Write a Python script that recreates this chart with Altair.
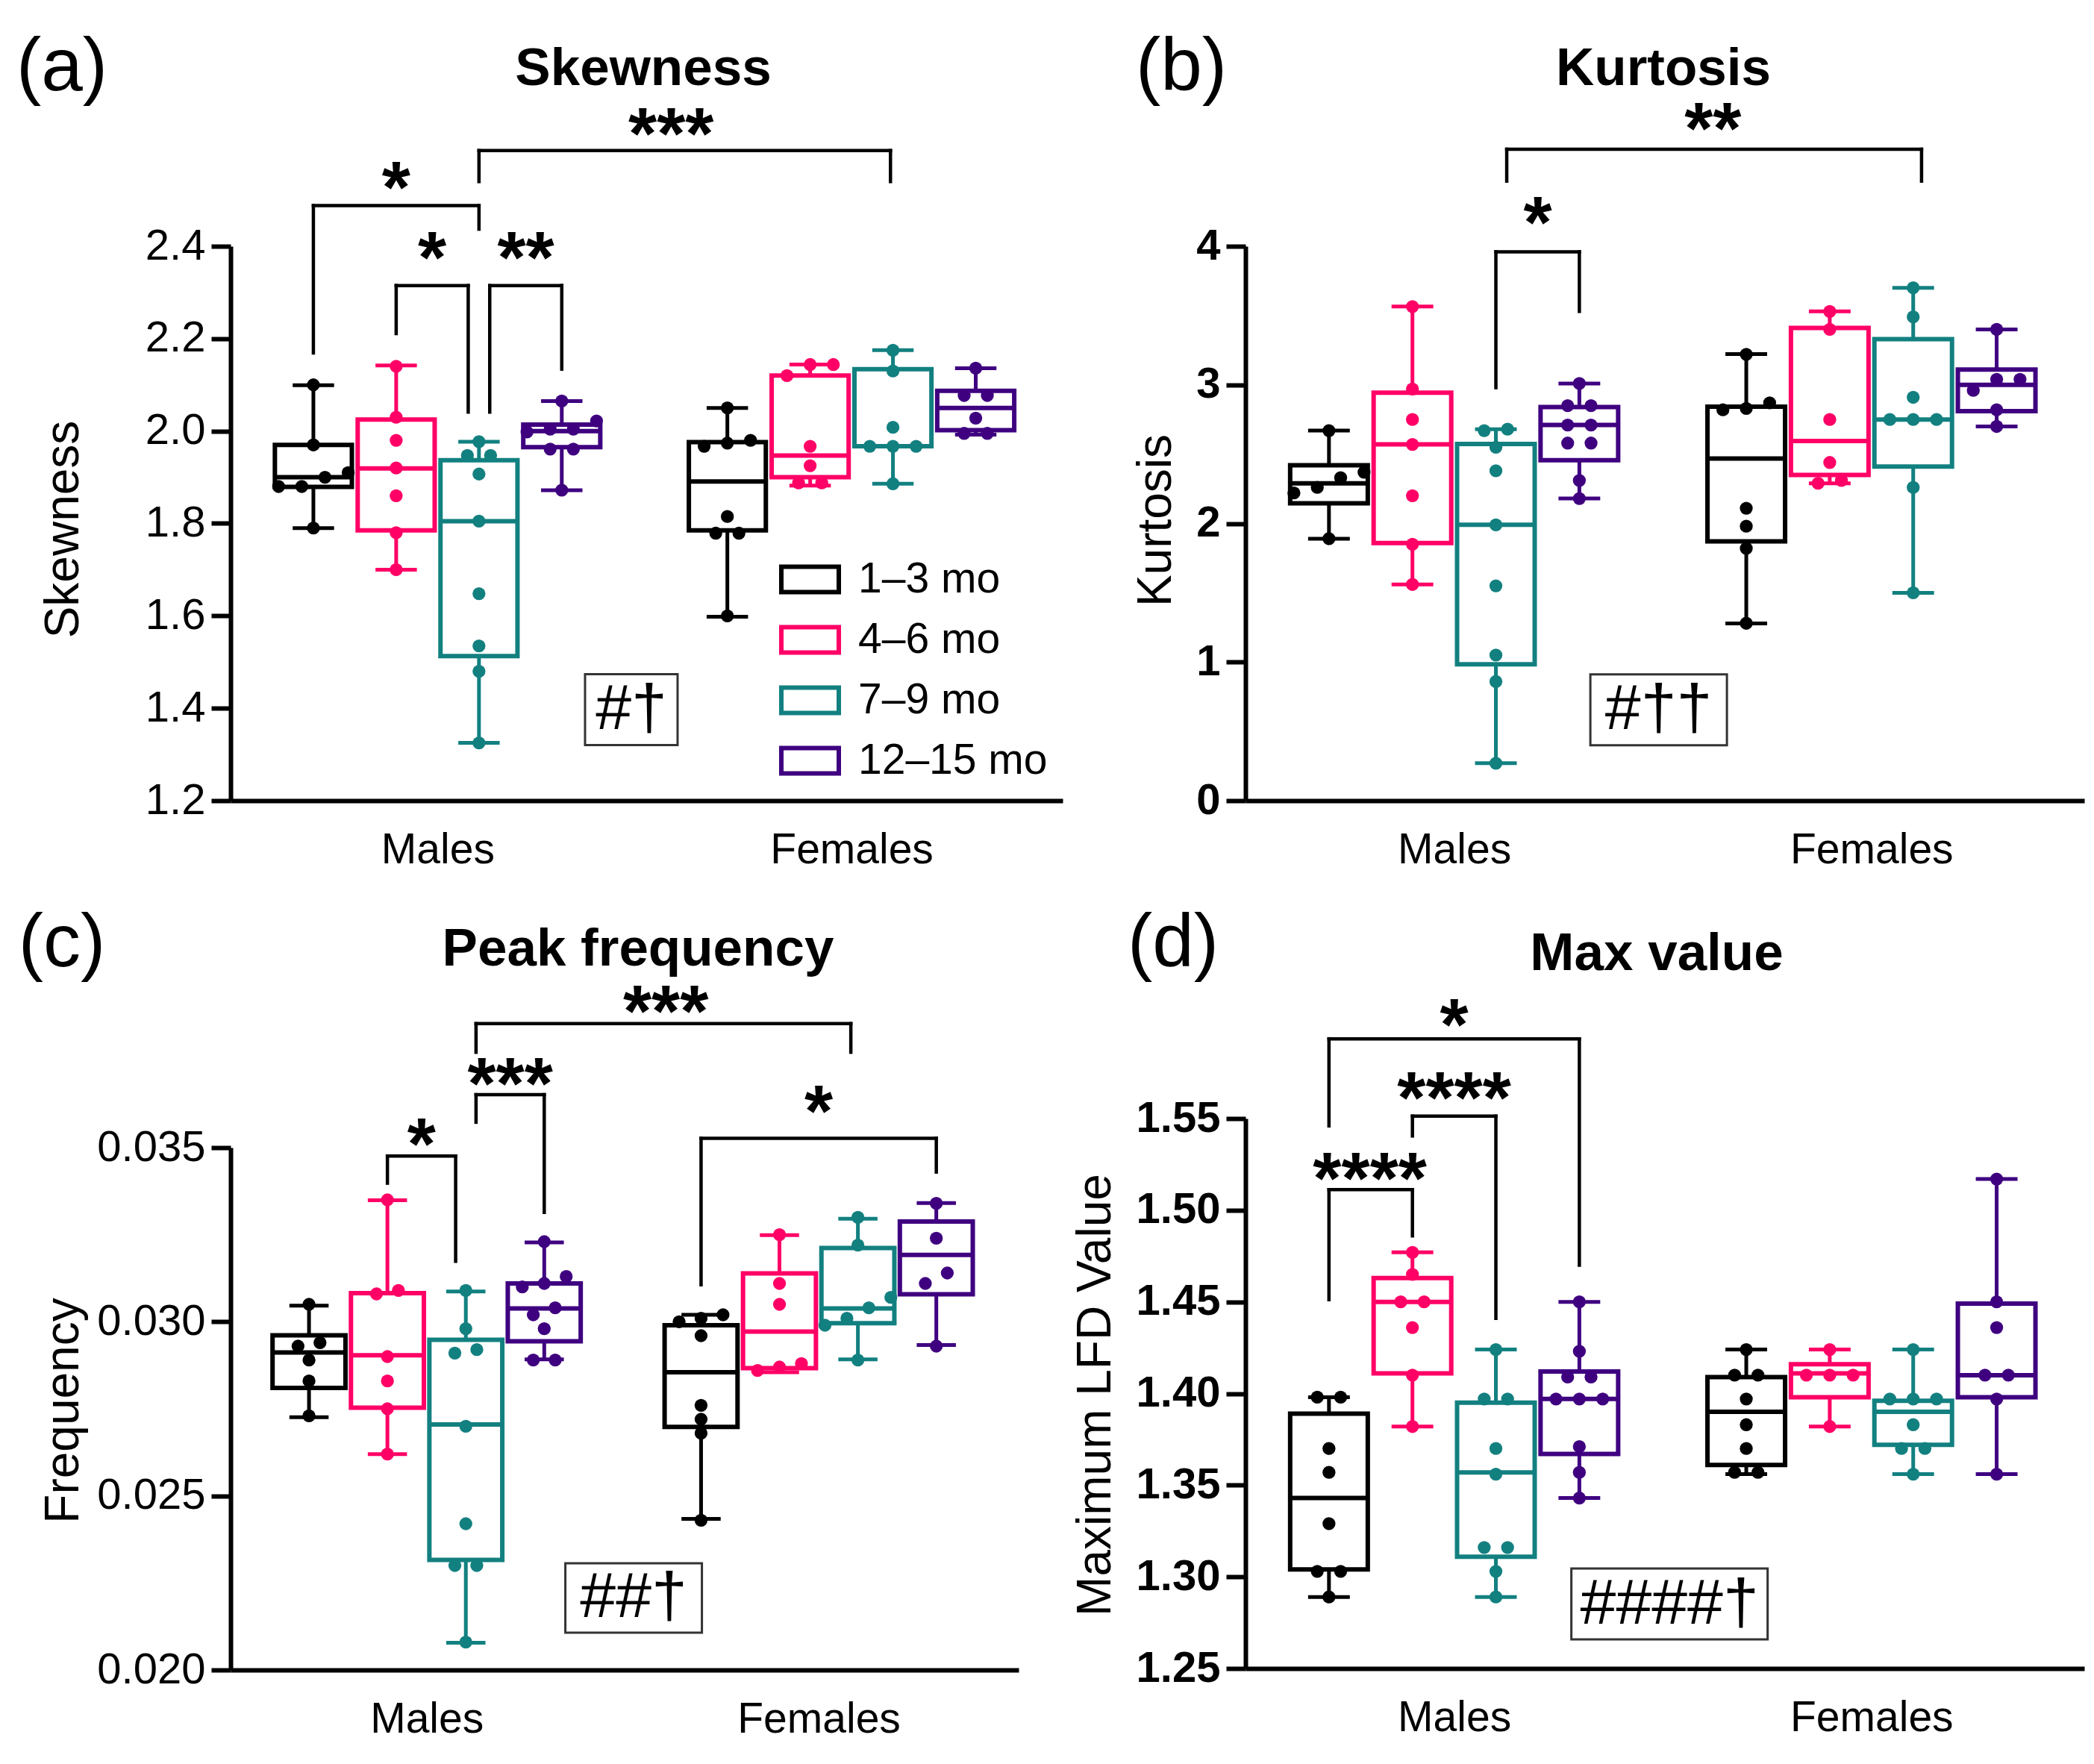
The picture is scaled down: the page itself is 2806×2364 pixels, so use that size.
import altair as alt
import pandas as pd

FONT = "Liberation Sans"
AGES = ["1–3 mo", "4–6 mo", "7–9 mo", "12–15 mo"]
COLORS = ["#000000", "#FF0066", "#138080", "#3F0080"]
GROUPS = ["Males", "Females"]

# ---------------- (a) Skewness ----------------
SKEW_PTS = [
    [2.10, 1.97, 1.91, 1.90, 1.88, 1.88, 1.79],
    [2.14, 2.03, 1.98, 1.92, 1.86, 1.78, 1.70],
    [1.977, 1.947, 1.947, 1.907, 1.805, 1.648, 1.535, 1.48, 1.325],
    [2.065, 2.022, 2.004, 2.004, 1.998, 1.961, 1.961, 1.872],
    [2.05, 1.98, 1.974, 1.967, 1.815, 1.779, 1.779, 1.60],
    [2.144, 2.144, 2.12, 1.967, 1.925, 1.888, 1.888],
    [2.175, 2.13, 2.008, 1.967, 1.967, 1.967, 1.886],
    [2.136, 2.077, 2.077, 2.028, 1.995, 1.995],
]
SKEW_BOX = [  # min, q1, median, q3, max
    [1.79, 1.879, 1.90, 1.970, 2.099],
    [1.70, 1.785, 1.919, 2.025, 2.142],
    [1.325, 1.513, 1.805, 1.937, 1.977],
    [1.872, 1.965, 2.000, 2.014, 2.065],
    [1.598, 1.785, 1.891, 1.976, 2.050],
    [1.882, 1.900, 1.947, 2.120, 2.144],
    [1.886, 1.967, 1.967, 2.134, 2.175],
    [1.992, 2.002, 2.050, 2.087, 2.136],
]
SKEW_SIG = [  # left, right, bar y, left end, right end, label, label x, label y
    [0, 2, 2.488, 2.169, 2.437, "*", 1.0, 2.546],
    [1, 1.87, 2.315, 2.211, 2.041, "*", 1.435, 2.394],
    [2.13, 3, 2.315, 2.041, 2.134, "**", 2.565, 2.394],
    [2, 6.97, 2.607, 2.54, 2.54, "***", 4.32, 2.662],
]
SKEW_NOTE = ["#†", 3.84, 1.397]

# ---------------- (b) Kurtosis ----------------
KURT_PTS = [
    [2.67, 2.37, 2.33, 2.26, 2.22, 1.89],
    [3.565, 2.97, 2.75, 2.57, 2.20, 1.85, 1.56],
    [2.68, 2.67, 2.55, 2.38, 1.99, 1.55, 1.05, 0.86, 0.27],
    [3.01, 2.85, 2.85, 2.71, 2.71, 2.58, 2.58, 2.31, 2.18],
    [3.22, 2.87, 2.83, 2.82, 2.11, 1.98, 1.82, 1.28],
    [3.53, 3.40, 2.75, 2.44, 2.31, 2.29],
    [3.70, 3.49, 2.91, 2.75, 2.75, 2.75, 2.26, 1.50],
    [3.40, 3.04, 3.04, 2.96, 2.82, 2.70],
]
KURT_BOX = [
    [1.89, 2.145, 2.29, 2.42, 2.67],
    [1.56, 1.859, 2.57, 2.944, 3.565],
    [0.27, 0.984, 1.99, 2.573, 2.68],
    [2.18, 2.456, 2.71, 2.84, 3.01],
    [1.278, 1.871, 2.468, 2.843, 3.222],
    [2.29, 2.35, 2.595, 3.41, 3.53],
    [1.50, 2.41, 2.75, 3.33, 3.70],
    [2.70, 2.81, 3.00, 3.11, 3.40],
]
KURT_SIG = [
    [2, 3, 3.96, 2.98, 3.53, "*", 2.5, 4.23],
    [2.13, 7.1, 4.70, 4.47, 4.47, "**", 4.6, 4.91],
]
KURT_NOTE = ["#††", 3.95, 0.655]

# ---------------- (c) Peak frequency ----------------
FREQ_PTS = [
    [0.0305, 0.0294, 0.0293, 0.0289, 0.0283, 0.0273],
    [0.0335, 0.0309, 0.0308, 0.0290, 0.0283, 0.0275, 0.0262],
    [0.0309, 0.0298, 0.0292, 0.0291, 0.0270, 0.0242, 0.0230, 0.0230, 0.0208],
    [0.0323, 0.0313, 0.0311, 0.0310, 0.0304, 0.0302, 0.0298, 0.0289, 0.0289],
    [0.0302, 0.0301, 0.0300, 0.0296, 0.0276, 0.0272, 0.0268, 0.0243],
    [0.0325, 0.0311, 0.0305, 0.0288, 0.0287, 0.0286],
    [0.0330, 0.0322, 0.0307, 0.0304, 0.0301, 0.0299, 0.0289],
    [0.0334, 0.0324, 0.0314, 0.0311, 0.0293],
]
FREQ_BOX = [
    [0.02726, 0.02810, 0.02912, 0.02961, 0.03046],
    [0.02620, 0.02753, 0.02904, 0.03082, 0.03349],
    [0.02078, 0.02316, 0.02705, 0.02948, 0.03087],
    [0.02892, 0.02944, 0.03038, 0.03110, 0.03228],
    [0.02434, 0.02698, 0.02855, 0.02990, 0.03020],
    [0.02855, 0.02867, 0.02972, 0.03139, 0.03249],
    [0.02892, 0.02996, 0.03038, 0.03212, 0.03296],
    [0.02933, 0.03079, 0.03192, 0.03288, 0.03341],
]
FREQ_SIG = [
    [1, 1.87, 0.03476, 0.03398, 0.03174, "*", 1.435, 0.03535],
    [2.13, 3, 0.03652, 0.03573, 0.03314, "***", 2.565, 0.03709],
    [2.13, 6.91, 0.03856, 0.03774, 0.03774, "***", 4.55, 0.03916],
    [5, 8, 0.03527, 0.03106, 0.03430, "*", 6.5, 0.03628],
]
FREQ_NOTE = ["##†", 4.14, 0.02207]

# ---------------- (d) Max value ----------------
MAXV_PTS = [
    [1.398, 1.398, 1.370, 1.357, 1.329, 1.303, 1.303, 1.289],
    [1.477, 1.465, 1.450, 1.450, 1.436, 1.410, 1.382],
    [1.424, 1.397, 1.397, 1.370, 1.356, 1.316, 1.316, 1.303, 1.289],
    [1.450, 1.423, 1.409, 1.409, 1.397, 1.397, 1.397, 1.371, 1.357, 1.343],
    [1.424, 1.410, 1.410, 1.397, 1.383, 1.370, 1.357, 1.357],
    [1.424, 1.410, 1.410, 1.410, 1.382],
    [1.424, 1.397, 1.397, 1.397, 1.383, 1.370, 1.370, 1.356],
    [1.517, 1.450, 1.436, 1.410, 1.410, 1.397, 1.356],
]
MAXV_BOX = [
    [1.289, 1.304, 1.343, 1.389, 1.398],
    [1.382, 1.411, 1.450, 1.463, 1.477],
    [1.289, 1.311, 1.357, 1.395, 1.424],
    [1.343, 1.367, 1.397, 1.412, 1.450],
    [1.356, 1.361, 1.390, 1.409, 1.424],
    [1.382, 1.398, 1.411, 1.416, 1.424],
    [1.356, 1.372, 1.390, 1.396, 1.424],
    [1.356, 1.398, 1.410, 1.449, 1.517],
]
MAXV_SIG = [
    [0, 1, 1.5112, 1.4512, 1.486, "****", 0.49, 1.522],
    [1, 2, 1.5513, 1.5405, 1.441, "****", 1.5, 1.566],
    [0, 3, 1.5935, 1.546, 1.470, "*", 1.5, 1.6058],
]
MAXV_NOTE = ["####†", 4.08, 1.2852]

XDOM = [-1, 9.05]
BOX_HALF = 0.465
CAP_HALF = 0.25


def group_pos(gi):
    return (gi // 4) * 5 + gi % 4


def spread(vals, tol, step=0.28):
    order = sorted(range(len(vals)), key=lambda i: vals[i])
    offs = [0.0] * len(vals)
    clusters, cur = [], [order[0]]
    for a, b in zip(order, order[1:]):
        if vals[b] - vals[a] < tol:
            cur.append(b)
        else:
            clusters.append(cur)
            cur = [b]
    clusters.append(cur)
    for cl in clusters:
        k = len(cl)
        for j, i in enumerate(cl):
            offs[i] = (j - (k - 1) / 2) * step
    return offs


def rect_path(ratio):
    return f"M-1,-{ratio}L1,-{ratio}L1,{ratio}L-1,{ratio}Z"


def panel(pts, box, sig, note, ydom, yticks, yfmt, ytitle, title, letter,
          w, h, ytop, bold, legend, letter_xy, title_xy, ytitle_xy, note_wh):
    sscale = alt.Scale(domain=AGES, range=COLORS)
    xs = alt.Scale(domain=XDOM, nice=False, zero=False)
    ys = alt.Scale(domain=ydom, nice=False, zero=False, range=[h, ytop])
    xaxis = alt.Axis(values=[1.5, 6.5],
                     labelExpr="datum.value < 4 ? 'Males' : 'Females'",
                     ticks=False, tickSize=0, grid=False, title=None,
                     domainWidth=6, domainColor="black", labelFont=FONT,
                     labelFontSize=57, labelColor="black", labelPadding=66,
                     labelBaseline="middle", labelAngle=0, labelLimit=600)
    yaxis = alt.Axis(values=yticks, format=yfmt, grid=False, title=ytitle,
                     titleFont=FONT, titleFontSize=64, titleFontWeight="normal",
                     titleColor="black", titleX=ytitle_xy[0], titleY=ytitle_xy[1],
                     titleAngle=270, titleBaseline="middle", titleAlign="center",
                     tickSize=26, tickWidth=6, tickColor="black",
                     domainWidth=6, domainColor="black", labelFont=FONT,
                     labelFontSize=58, labelColor="black", labelPadding=8,
                     labelFontWeight="bold" if bold else "normal")

    def X(f):
        return alt.X(f, type="quantitative", scale=xs, axis=xaxis)

    def Y(f):
        return alt.Y(f, type="quantitative", scale=ys, axis=yaxis)

    tol = 0.022 * (ydom[1] - ydom[0])
    brows, prows = [], []
    for gi in range(8):
        pos = group_pos(gi)
        lo, q1, med, q3, hi = box[gi]
        hexc = COLORS[gi % 4]
        brows.append(dict(pos=pos, age=AGES[gi % 4], hexc=hexc, lo=lo, q1=q1,
                          med=med, q3=q3, hi=hi, b1=pos - BOX_HALF, b2=pos + BOX_HALF,
                          c1=pos - CAP_HALF, c2=pos + CAP_HALF))
        offs = spread(pts[gi], tol)
        for v, o in zip(pts[gi], offs):
            prows.append(dict(px=pos + o, v=v, age=AGES[gi % 4], hexc=hexc))
    bdf = pd.DataFrame(brows)
    pdf = pd.DataFrame(prows)

    srows, trows = [], []
    for xa, xb, yb, yl, yr, lab, tx, ty in sig:
        srows.append(dict(sx=xa, sx2=xa, sy=yl, sy2=yb))
        srows.append(dict(sx=xa, sx2=xb, sy=yb, sy2=yb))
        srows.append(dict(sx=xb, sx2=xb, sy=yr, sy2=yb))
        trows.append(dict(tx=tx, ty=ty, lab=lab))
    sdf = pd.DataFrame(srows)
    tdf = pd.DataFrame(trows)
    ndf = pd.DataFrame([dict(nt=note[0], nx=note[1], ny=note[2])])

    col = alt.Color("hexc:N", scale=None)
    if legend:
        leg = alt.Legend(orient="none", legendX=735, legendY=405, title=None,
                         symbolType=rect_path(0.44), symbolSize=77 ** 2,
                         symbolStrokeWidth=6, symbolFillColor="white",
                         labelFont=FONT, labelFontSize=57, labelColor="black",
                         labelOffset=23, rowPadding=10, padding=0, symbolOffset=0,
                         labelLimit=600)
        stroke = alt.Stroke("age:N", scale=sscale, legend=leg)
    else:
        stroke = alt.Stroke("age:N", scale=sscale, legend=None)

    whisk_hi = alt.Chart(bdf).mark_rule(strokeWidth=5).encode(
        x=X("pos"), y=Y("q3"), y2="hi", color=col)
    whisk_lo = alt.Chart(bdf).mark_rule(strokeWidth=5).encode(
        x=X("pos"), y=Y("lo"), y2="q1", color=col)
    cap_hi = alt.Chart(bdf).mark_rule(strokeWidth=5).encode(
        x=X("c1"), x2="c2", y=Y("hi"), color=col)
    cap_lo = alt.Chart(bdf).mark_rule(strokeWidth=5).encode(
        x=X("c1"), x2="c2", y=Y("lo"), color=col)
    boxes = alt.Chart(bdf).mark_rect(fill="white", strokeWidth=6, strokeJoin="miter").encode(
        x=X("b1"), x2="b2", y=Y("q1"), y2="q3", stroke=stroke)
    medians = alt.Chart(bdf).mark_rule(strokeWidth=6).encode(
        x=X("b1"), x2="b2", y=Y("med"), color=col)
    dots = alt.Chart(pdf).mark_circle(size=300, opacity=1).encode(
        x=X("px"), y=Y("v"), color=col)
    brackets = alt.Chart(sdf).mark_rule(strokeWidth=4.5, color="black", strokeCap="square").encode(
        x=X("sx"), x2="sx2", y=Y("sy"), y2="sy2")
    star_fs = 98
    stars = alt.Chart(tdf).mark_text(font=FONT, fontSize=star_fs, fontWeight="bold",
                                     baseline="alphabetic", dy=0.46 * star_fs,
                                     color="black").encode(
        x=X("tx"), y=Y("ty"), text="lab:N")
    nbox = alt.Chart(ndf).mark_point(shape=rect_path(round(note_wh[1] / note_wh[0], 3)),
                                     size=note_wh[0] ** 2, filled=False, strokeWidth=3,
                                     color="#333333", opacity=1).encode(
        x=X("nx"), y=Y("ny"))
    ntext = alt.Chart(ndf).mark_text(font=FONT, fontSize=86, baseline="middle",
                                     color="black").encode(
        x=X("nx"), y=Y("ny"), text="nt:N")
    let = alt.Chart(pd.DataFrame({"t": [letter]})).mark_text(
        font=FONT, fontSize=100, baseline="middle", align="center", color="black").encode(
        x=alt.value(letter_xy[0]), y=alt.value(letter_xy[1]), text="t:N")
    tit = alt.Chart(pd.DataFrame({"t": [title]})).mark_text(
        font=FONT, fontSize=71, fontWeight="bold", baseline="middle", align="center",
        color="black").encode(
        x=alt.value(title_xy[0]), y=alt.value(title_xy[1]), text="t:N")

    return alt.layer(whisk_hi, whisk_lo, cap_hi, cap_lo, boxes, medians, dots,
                     brackets, stars, nbox, ntext, let, tit).properties(width=w, height=h)


pa = panel(SKEW_PTS, SKEW_BOX, SKEW_SIG, SKEW_NOTE, [1.2, 2.4],
           [1.2, 1.4, 1.6, 1.8, 2.0, 2.2, 2.4], ".1f", "Skewness", "Skewness", "(a)",
           1115, 743, 0, False, True, (-226, -239), (553, -237), (-224, 379), (124, 95))
pb = panel(KURT_PTS, KURT_BOX, KURT_SIG, KURT_NOTE, [0, 4],
           [0, 1, 2, 3, 4], "d", "Kurtosis", "Kurtosis", "(b)",
           1124, 743, 0, True, False, (-86, -239), (560, -237), (-120, 367), (183, 95))
pc = panel(FREQ_PTS, FREQ_BOX, FREQ_SIG, FREQ_NOTE, [0.020, 0.035],
           [0.020, 0.025, 0.030, 0.035], ".3f", "Frequency", "Peak frequency", "(c)",
           1056, 739, 39, False, False, (-226, -234), (546, -226), (-224, 391), (183, 93))
pd_ = panel(MAXV_PTS, MAXV_BOX, MAXV_SIG, MAXV_NOTE, [1.25, 1.55],
            [1.25, 1.30, 1.35, 1.40, 1.45, 1.50, 1.55], ".2f", "Maximum LFD Value",
            "Max value", "(d)",
            1124, 737, 0, True, False, (-97, -234), (551, -220), (-201, 370), (263, 95))

chart = alt.concat(pa, pb, pc, pd_, columns=2, spacing={"row": 426, "column": 236},
                   bounds="flush", align="all").resolve_scale(
    stroke="independent").configure_view(
    strokeWidth=0).properties(padding={"left": 13, "top": 33, "right": 5, "bottom": 5})

chart.save("out.html", embed_options={"renderer": "svg", "actions": False})
